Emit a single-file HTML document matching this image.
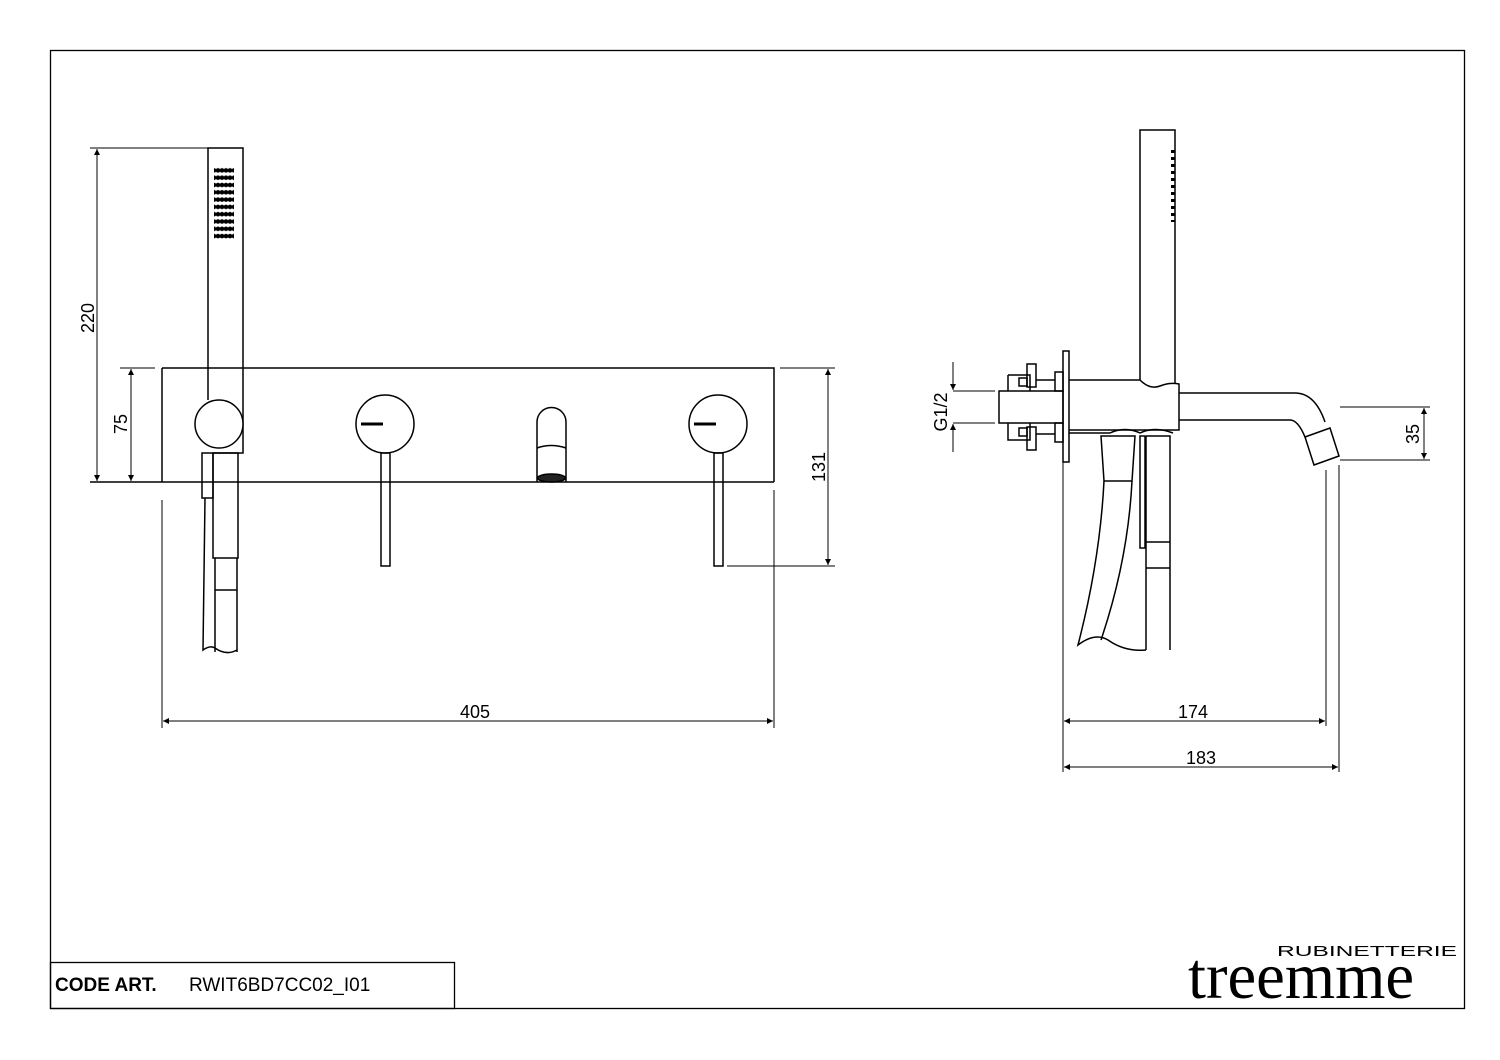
<!DOCTYPE html>
<html><head><meta charset="utf-8"><style>
html,body{margin:0;padding:0;background:#fff}
svg{display:block}
text{font-family:"Liberation Sans",Arial,sans-serif;fill:#000}
</style></head><body>
<svg width="1500" height="1060" viewBox="0 0 1500 1060" xmlns="http://www.w3.org/2000/svg">
<defs>
<marker id="a" viewBox="0 0 10 10" refX="10" refY="5" markerWidth="12" markerHeight="6" markerUnits="userSpaceOnUse" orient="auto-start-reverse"><path d="M0,0L10,5L0,10z" fill="#000"/></marker>
<pattern id="dots" width="4" height="7.3" patternUnits="userSpaceOnUse"><circle cx="2" cy="2.5" r="2.3" fill="#000"/></pattern>
</defs>
<g fill="none" stroke="#000" stroke-width="1.5">
<rect x="50.5" y="50.5" width="1414" height="958" stroke-width="1.3"/>
<rect x="50.5" y="962.5" width="404" height="46" stroke-width="1.3"/>

<path d="M162,368H774V482M162,368V482M90,482H774"/>
<path d="M120,368H155M90,148H208M727,566H835M780,368H835" stroke-width="1"/>
<path d="M162,500V728M774,490V728" stroke-width="1"/>
<line x1="97" y1="149" x2="97" y2="481" stroke-width="1" marker-start="url(#a)" marker-end="url(#a)"/>
<line x1="131" y1="369" x2="131" y2="481" stroke-width="1" marker-start="url(#a)" marker-end="url(#a)"/>
<line x1="828" y1="369" x2="828" y2="565" stroke-width="1" marker-start="url(#a)" marker-end="url(#a)"/>
<line x1="163" y1="721" x2="773" y2="721" stroke-width="1" marker-start="url(#a)" marker-end="url(#a)"/>
<path d="M208,400V148H243V453H213"/>
<rect x="214" y="166" width="20" height="73" fill="url(#dots)" stroke="none"/>
<circle cx="219" cy="424" r="24" fill="#fff"/>
<rect x="213" y="453" width="25" height="105"/>
<rect x="202" y="453" width="11" height="45"/>
<path d="M215,558V590H237V558M215,590V652M237,590V652M205,498L203,650Q210,645 215,648Q226,656 237,650"/>
<circle cx="385" cy="424" r="29"/>
<rect x="381" y="453" width="9" height="113"/>
<line x1="361" y1="424" x2="383" y2="424" stroke-width="3"/>
<path d="M537,482V422A14.5,14.5 0 0 1 566,422V482M537,448Q551,443 566,448"/>
<ellipse cx="551.5" cy="478" rx="14" ry="4" fill="#222"/>
<circle cx="718" cy="424" r="29"/>
<rect x="714" y="453" width="9" height="113"/>
<line x1="694" y1="424" x2="716" y2="424" stroke-width="3"/>

<path d="M1140,380V130H1175V384"/>
<path d="M1173,150V222" stroke-width="4" stroke-dasharray="3,4"/>
<rect x="1063" y="351" width="6" height="111"/>
<path d="M1063,462V772M1326,470V726M1339,465V772" stroke-width="1"/>
<rect x="999" y="391" width="64" height="32"/>
<path d="M1008,375H1030V391M1008,375V391M1008,423V440H1030V423"/>
<rect x="1027" y="364" width="9" height="23"/><rect x="1027" y="427" width="9" height="23"/>
<rect x="1019" y="378" width="8" height="8"/><rect x="1019" y="428" width="8" height="8"/>
<path d="M1036,380H1055M1036,434H1055"/>
<rect x="1055" y="372" width="8" height="19"/><rect x="1055" y="423" width="8" height="19"/>
<path d="M1069,380H1140Q1150,390 1160,386Q1170,382 1179,384V430H1069"/>
<path d="M1069,433H1110Q1125,426 1140,433Q1155,426 1173,433"/>
<path d="M1179,393H1295Q1315,393 1325,422M1179,420H1290Q1298,420 1305,437"/>
<path d="M1305,437L1330,428L1339,456L1314,465Z"/>
<path d="M1101,436H1135L1132,481H1104Z"/>
<path d="M1104,481Q1100,560 1078,645Q1095,632 1108,640Q1125,652 1146,650M1132,481Q1128,560 1101,640"/>
<rect x="1140" y="436" width="5" height="112"/>
<path d="M1146,436H1170V650M1146,436V650M1146,542H1170M1146,568H1170"/>
<path d="M953,391H995M953,423H995M1340,407H1430M1340,460H1430" stroke-width="1"/>
<line x1="953" y1="362" x2="953" y2="390" stroke-width="1" marker-end="url(#a)"/>
<line x1="953" y1="452" x2="953" y2="424" stroke-width="1" marker-end="url(#a)"/>
<line x1="1424" y1="408" x2="1424" y2="459" stroke-width="1" marker-start="url(#a)" marker-end="url(#a)"/>
<line x1="1064" y1="721" x2="1325" y2="721" stroke-width="1" marker-start="url(#a)" marker-end="url(#a)"/>
<line x1="1064" y1="767" x2="1338" y2="767" stroke-width="1" marker-start="url(#a)" marker-end="url(#a)"/>
</g>
<text x="475" y="718" font-size="18" text-anchor="middle">405</text>
<text x="1193" y="718" font-size="18" text-anchor="middle">174</text>
<text x="1201" y="764" font-size="18" text-anchor="middle">183</text>
<text transform="translate(94,318) rotate(-90)" font-size="18" text-anchor="middle">220</text>
<text transform="translate(127,424) rotate(-90)" font-size="18" text-anchor="middle">75</text>
<text transform="translate(825,467) rotate(-90)" font-size="18" text-anchor="middle">131</text>
<text transform="translate(947,412) rotate(-90)" font-size="18" text-anchor="middle">G1/2</text>
<text transform="translate(1419,434) rotate(-90)" font-size="18" text-anchor="middle">35</text>
<text x="55" y="991" font-size="19" font-weight="bold">CODE ART.</text>
<text x="189" y="991" font-size="19">RWIT6BD7CC02_I01</text>
<text x="1277" y="956" font-size="15" textLength="180" lengthAdjust="spacingAndGlyphs">RUBINETTERIE</text>
<text x="1188" y="998" font-size="66" style="font-family:'Liberation Serif',serif" textLength="226" lengthAdjust="spacingAndGlyphs">treemme</text>
</svg>
</body></html>
